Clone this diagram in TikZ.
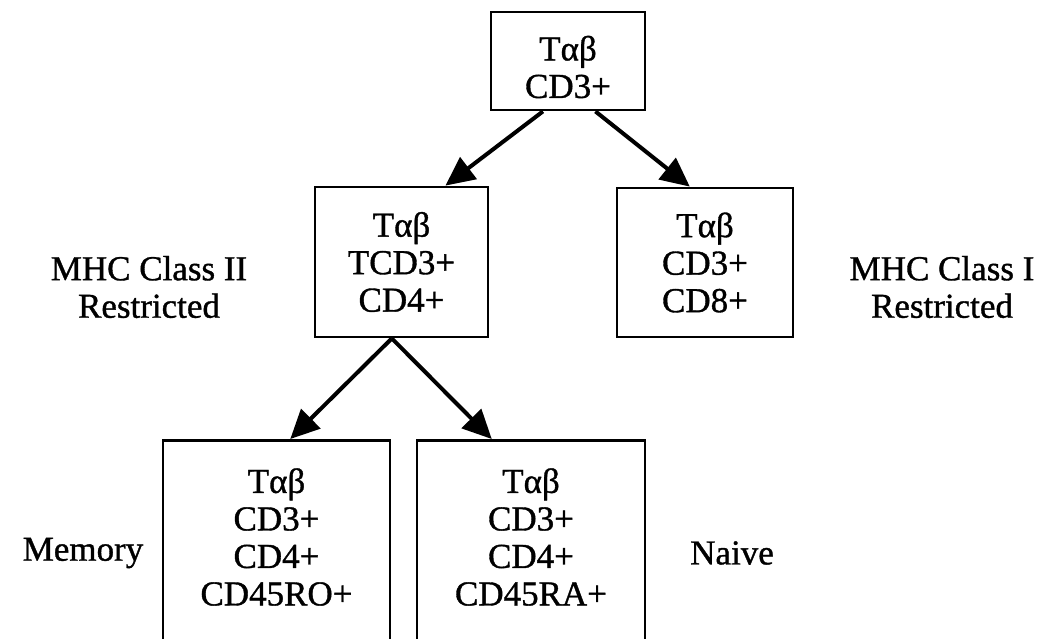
\documentclass[tikz,border=0pt]{standalone}
\usepackage{fontspec}
\setmainfont{Liberation Serif}[FakeBold=1]
\usetikzlibrary{arrows.meta,calc}
\begin{document}
\begin{tikzpicture}[x=1pt,y=-1pt,
  cellbox/.style={draw, line width=2.8pt, inner sep=0pt},
  celltext/.style={align=center, inner sep=0pt, font=\fontsize{35}{37.5}\selectfont},
  link/.style={line width=4pt, -{Triangle[length=29pt,width=27pt]}}]
  \useasboundingbox (0,0) rectangle (1047,638);
  \clip (0,0) rectangle (1047,638);

  % cell boxes
  \node[cellbox, minimum width=154pt, minimum height=98pt] (top) at (568,61) {};
  \node[celltext] (toptext) at (568,67) {Tαβ\\CD3+};
  \node[cellbox, celltext, minimum width=173pt, minimum height=150pt] (midL) at (401.5,262) {Tαβ\\TCD3+\\CD4+};
  \node[cellbox, celltext, minimum width=176pt, minimum height=149pt] (midR) at (705,262.5) {Tαβ\\CD3+\\CD8+};
  \node[cellbox, minimum width=227pt, minimum height=260pt, anchor=north] (botL) at (276.5,439) {};
  \node[cellbox, minimum width=228pt, minimum height=260pt, anchor=north] (botR) at (531,439) {};
  \node[celltext] (botLtext) at (276.5,537) {Tαβ\\CD3+\\CD4+\\CD45RO+};
  \node[celltext] (botRtext) at (531,537) {Tαβ\\CD3+\\CD4+\\CD45RA+};

  % side labels
  \node[celltext] (cls2) at (149,287) {MHC Class II\\Restricted};
  \node[celltext] (cls1) at (942,287) {MHC Class I\\Restricted};
  \node[celltext] (mem) at (83,553) {Memory};
  \node[celltext] (naive) at (732,553) {Naive};

  % lineage arrows
  \draw[link] ($(top.south west)!0.34!(top.south east)$) -- ($(midL.north west)!0.75!(midL.north east)$);
  \draw[link] ($(top.south west)!0.675!(top.south east)$) -- ($(midR.north west)!0.415!(midR.north east)$);
  \coordinate (fork) at ($(midL.south west)!0.445!(midL.south east)$);
  \draw[link] (fork) -- ($(botL.north west)!0.56!(botL.north east)$);
  \draw[link] (fork) -- ($(botR.north west)!0.33!(botR.north east)$);
\end{tikzpicture}
\end{document}
